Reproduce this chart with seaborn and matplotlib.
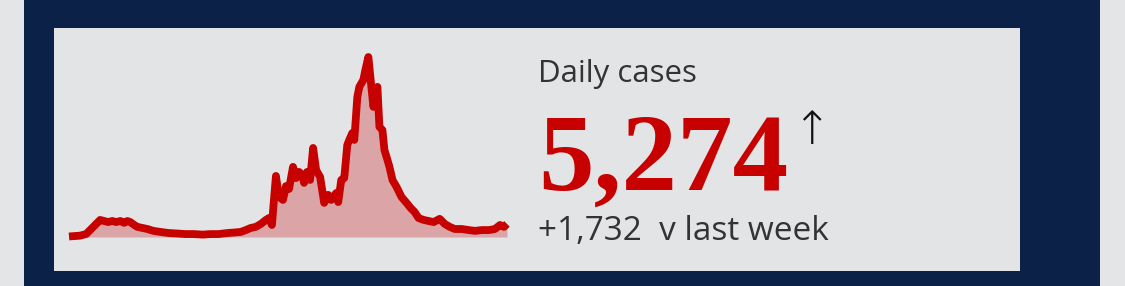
import matplotlib
matplotlib.use("Agg")
import matplotlib.pyplot as plt
import seaborn as sns
import pandas as pd
from matplotlib.patches import Rectangle

# ---- data ----
days = [0, 11, 17, 21, 26, 31, 35, 39, 43, 47, 51, 55, 58, 61, 65, 68, 73, 78,
        84, 91, 99, 108, 116, 124, 133, 141, 149, 158, 165, 171, 176, 181, 186,
        191, 196, 199, 202, 204, 206, 209, 213, 216, 219, 223, 226, 229, 232,
        234, 237, 240, 243, 246, 250, 254, 258, 261, 266, 268, 271, 274, 277,
        279, 282, 284, 287, 289, 293, 295, 298, 301, 303, 307, 309, 312, 314,
        317, 319, 322, 326, 331, 336, 340, 344, 348, 353, 358, 363, 369, 374,
        379, 384, 391, 398, 404, 411, 418, 424, 429, 433, 436]
cases = [200, 500, 1100, 2600, 4500, 6400, 6000, 5600, 6000, 5600, 6000, 5300,
         6000, 5600, 4500, 3800, 3400, 3000, 2300, 1900, 1500, 1300, 1100, 1100,
         900, 1100, 1100, 1500, 1700, 1900, 2600, 3400, 3800, 4900, 6400, 7100,
         4500, 13900, 22900, 15000, 13900, 19100, 18000, 26300, 22100, 24400,
         23300, 20300, 24400, 21400, 33400, 25100, 22500, 12800, 15800, 13900,
         16500, 13100, 21400, 22100, 34500, 36400, 39000, 36400, 52500, 56300,
         58900, 62600, 67500, 56300, 48800, 56300, 41300, 40100, 32600, 28900,
         26300, 21400, 18800, 15000, 12800, 10900, 9400, 7100, 6400, 6000, 5600,
         6800, 4900, 3800, 3000, 3000, 2600, 2300, 2600, 2600, 3000, 4500, 3800,
         4900]
title = "Daily cases"
headline = "5,274"
change = "+1,732  v last week"

W, H = 1125, 286
OUTER = "#e4e5e7"
NAVY = "#0b2147"
PANEL = "#e3e4e6"
RED = "#c70000"

df = pd.DataFrame({"day": days, "cases": cases})

sns.set_theme(style="white")
fig = plt.figure(figsize=(W / 100, H / 100), dpi=100, facecolor=OUTER)

def fx(px):
    return px / W

def fy(py):
    return 1 - py / H

fig.patches.append(Rectangle((fx(24), 0), fx(1100) - fx(24), 1,
                             transform=fig.transFigure, facecolor=NAVY,
                             edgecolor="none", zorder=-2))
fig.patches.append(Rectangle((fx(54), fy(271)), fx(1020) - fx(54), fy(28) - fy(271),
                             transform=fig.transFigure, facecolor=PANEL,
                             edgecolor="none", zorder=-1))

ax = fig.add_axes([fx(69), fy(237), fx(507) - fx(69), fy(57) - fy(237)])
ax.set_zorder(3)
ax.set_facecolor("none")
ax.fill_between(df["day"], 0, df["cases"], color=RED, alpha=0.28, linewidth=0)
sns.lineplot(data=df, x="day", y="cases", ax=ax, color=RED, linewidth=5.6,
             solid_joinstyle="round", solid_capstyle="butt", clip_on=False)
ax.set_xlim(min(days), max(days))
ax.set_ylim(0, max(cases))
ax.axis("off")

fig.text(fx(538), fy(82), title, family="Open Sans", fontsize=22.5,
         color="#333333", va="baseline", ha="left", zorder=4)
fig.text(fx(538), fy(190), headline, family="Liberation Serif", weight="bold",
         fontsize=80, color=RED, va="baseline", ha="left", zorder=4)
fig.text(fx(793), fy(144), "\u2191", family="DejaVu Sans", weight="light",
         fontsize=33, color="#111111", va="baseline", ha="left", zorder=4)
fig.text(fx(538), fy(240), change, family="Open Sans", fontsize=24,
         color="#333333", va="baseline", ha="left", zorder=4)

fig.savefig("out.png", dpi=100, facecolor=OUTER)
